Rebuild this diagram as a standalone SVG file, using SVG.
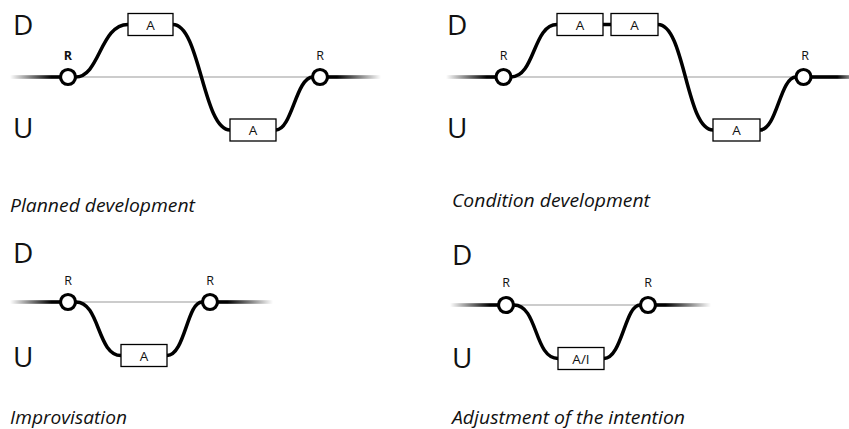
<svg xmlns="http://www.w3.org/2000/svg" width="849" height="429" viewBox="0 0 849 429">
  <defs>
    <linearGradient id="fadeL" x1="0" y1="0" x2="1" y2="0">
      <stop offset="0" stop-color="#000" stop-opacity="0"/>
      <stop offset="0.8" stop-color="#000" stop-opacity="1"/>
    </linearGradient>
    <linearGradient id="fadeR" x1="0" y1="0" x2="1" y2="0">
      <stop offset="0.2" stop-color="#000" stop-opacity="1"/>
      <stop offset="1" stop-color="#000" stop-opacity="0"/>
    </linearGradient>
    <linearGradient id="fadeR2" x1="0" y1="0" x2="1" y2="0">
      <stop offset="0.7" stop-color="#000" stop-opacity="1"/>
      <stop offset="1" stop-color="#000" stop-opacity="0.5"/>
    </linearGradient>
    <style>
      .axis { font-family: "Open Sans", "Liberation Sans", sans-serif; font-size: 28px; fill: #111; }
      .r { font-family: "Open Sans", "Liberation Sans", sans-serif; font-size: 12.5px; fill: #111; text-anchor: middle; }
      .rb { font-weight: bold; }
      .bt { font-family: "Open Sans", "Liberation Sans", sans-serif; font-size: 13.5px; fill: #111; text-anchor: middle; }
      .cap { font-family: "Open Sans", "Liberation Sans", sans-serif; font-style: italic; font-size: 18px; fill: #111; }
      .base { stroke: #999; stroke-width: 1; fill: none; }
      .wire { stroke: #000; stroke-width: 3.5; fill: none; stroke-linecap: round; }
      .node { fill: #fff; stroke: #000; stroke-width: 3.2; }
      .box { fill: #fff; stroke: #000; stroke-width: 1.3; }
    </style>
  </defs>
  <rect width="849" height="429" fill="#fff"/>

  <!-- axis labels -->
  <text class="axis" x="13" y="35">D</text>
  <text class="axis" x="13" y="138">U</text>
  <text class="axis" x="447" y="35">D</text>
  <text class="axis" x="447" y="138">U</text>
  <text class="axis" x="13" y="263">D</text>
  <text class="axis" x="13" y="367">U</text>
  <text class="axis" x="452" y="265">D</text>
  <text class="axis" x="452" y="368">U</text>

  <!-- thin reference lines -->
  <g id="baselines">
    <line class="base" x1="76" y1="77" x2="313" y2="77"/>
    <line class="base" x1="511" y1="77" x2="796" y2="77"/>
    <line class="base" x1="76" y1="302" x2="202" y2="302"/>
    <line class="base" x1="514" y1="305" x2="640" y2="305"/>
  </g>

  <!-- connectors -->
  <g id="connectors">
    <!-- lead-in / lead-out strokes -->
    <rect x="10" y="75.2" width="52" height="3.6" fill="url(#fadeL)"/>
    <rect x="326" y="75.2" width="55" height="3.6" fill="url(#fadeR)"/>
    <rect x="446" y="75.2" width="51" height="3.6" fill="url(#fadeL)"/>
    <rect x="810" y="75.2" width="39" height="3.6" fill="url(#fadeR2)"/>
    <rect x="10" y="300.2" width="52" height="3.6" fill="url(#fadeL)"/>
    <rect x="216" y="300.2" width="57" height="3.6" fill="url(#fadeR)"/>
    <rect x="450" y="303.2" width="50" height="3.6" fill="url(#fadeL)"/>
    <rect x="654" y="303.2" width="57" height="3.6" fill="url(#fadeR)"/>

    <!-- planned development -->
    <path class="wire" d="M75.5 77 C100 77 100 24.5 128 24.5"/>
    <path class="wire" d="M173 24.5 C200 24.5 203 130 230 130"/>
    <path class="wire" d="M276 130 C292 130 296 77 313 77"/>

    <!-- condition development -->
    <path class="wire" d="M511 77 C535 77 533 24.5 557 24.5"/>
    <line class="wire" x1="603" y1="24.5" x2="611" y2="24.5"/>
    <path class="wire" d="M658 24.5 C685 24.5 686 130 713 130"/>
    <path class="wire" d="M760 130 C777 130 780 77 796 77"/>

    <!-- improvisation -->
    <path class="wire" d="M76 302 C100 302 97 355.5 121 355.5"/>
    <path class="wire" d="M167 355.5 C185 355.5 187 302 202 302"/>

    <!-- adjustment of the intention -->
    <path class="wire" d="M514 305 C538 305 534 358.5 558 358.5"/>
    <path class="wire" d="M604 358.5 C622 358.5 625 305 640 305"/>
  </g>

  <!-- planned development nodes -->
  <g id="p1-r1"><circle class="node" cx="68" cy="77" r="7.5"/><text class="r rb" x="68" y="60">R</text></g>
  <g id="p1-a1"><rect class="box" x="128" y="13.5" width="45" height="22"/><text class="bt" x="150.5" y="29.5">A</text></g>
  <g id="p1-a2"><rect class="box" x="230" y="119" width="46" height="22"/><text class="bt" x="253" y="135">A</text></g>
  <g id="p1-r2"><circle class="node" cx="320" cy="77" r="7.5"/><text class="r" x="320" y="60">R</text></g>

  <!-- condition development nodes -->
  <g id="p2-r1"><circle class="node" cx="503.5" cy="77" r="7.5"/><text class="r" x="503.5" y="60">R</text></g>
  <g id="p2-a1"><rect class="box" x="557" y="13.5" width="46" height="22"/><text class="bt" x="580" y="29.5">A</text></g>
  <g id="p2-a2"><rect class="box" x="611" y="13.5" width="47" height="22"/><text class="bt" x="634.5" y="29.5">A</text></g>
  <g id="p2-a3"><rect class="box" x="713" y="119" width="47" height="22"/><text class="bt" x="736.5" y="135">A</text></g>
  <g id="p2-r2"><circle class="node" cx="803.5" cy="77" r="7.5"/><text class="r" x="805" y="60">R</text></g>

  <!-- improvisation nodes -->
  <g id="p3-r1"><circle class="node" cx="68" cy="302" r="7.5"/><text class="r" x="68" y="285">R</text></g>
  <g id="p3-a1"><rect class="box" x="121" y="344.5" width="46" height="22"/><text class="bt" x="144" y="360.5">A</text></g>
  <g id="p3-r2"><circle class="node" cx="210" cy="302" r="7.5"/><text class="r" x="210" y="285">R</text></g>

  <!-- adjustment of the intention nodes -->
  <g id="p4-r1"><circle class="node" cx="506" cy="305" r="7.5"/><text class="r" x="506" y="287">R</text></g>
  <g id="p4-a1"><rect class="box" x="558" y="347.5" width="46" height="22"/><text class="bt" x="581" y="363.5">A/I</text></g>
  <g id="p4-r2"><circle class="node" cx="648" cy="305" r="7.5"/><text class="r" x="648" y="287">R</text></g>

  <!-- captions -->
  <text class="cap" x="10" y="212" textLength="185" lengthAdjust="spacingAndGlyphs">Planned development</text>
  <text class="cap" x="452" y="207" textLength="198" lengthAdjust="spacingAndGlyphs">Condition development</text>
  <text class="cap" x="10" y="424" textLength="117" lengthAdjust="spacingAndGlyphs">Improvisation</text>
  <text class="cap" x="452" y="424" textLength="233" lengthAdjust="spacingAndGlyphs">Adjustment of the intention</text>
</svg>
